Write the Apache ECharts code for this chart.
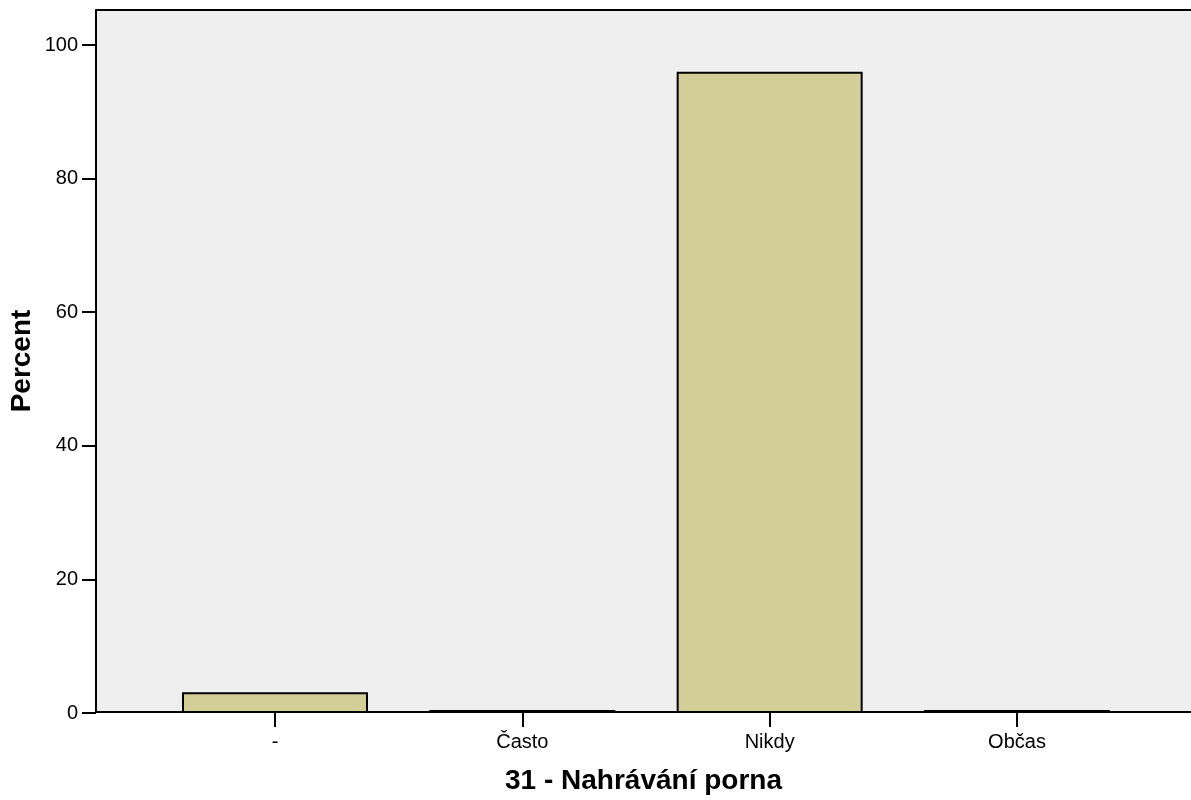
<!DOCTYPE html>
<html>
<head>
<meta charset="utf-8">
<script src="https://cdn.jsdelivr.net/npm/echarts@6/dist/echarts.min.js"></script>
<style>
html,body{margin:0;padding:0;background:#fff;}
#chart{width:1191px;height:800px;}
</style>
</head>
<body>
<div id="chart"></div>
<script>
const categories = ['-', 'Často', 'Nikdy', 'Občas'];
const percentValues = [3.1, 0.45, 96.0, 0.45];
const yTicks = [0, 20, 40, 60, 80, 100];
const xTitle = '31 - Nahrávání porna';
const yTitle = 'Percent';

const FONT = "'Liberation Sans', Arial, sans-serif";
const chart = echarts.init(document.getElementById('chart'), null, {renderer: 'canvas'});

const option = {
  backgroundColor: '#ffffff',
  animation: false,
  grid: [
    {left: 96, right: 0, top: 10, bottom: 87, show: true, backgroundColor: '#efefef', borderWidth: 0},
    {left: 151.33, right: 50.33, top: 45, bottom: 87}
  ],
  xAxis: [
    {
      gridIndex: 0, type: 'value', min: 0, max: 1, position: 'bottom',
      axisLine: {show: true, onZero: false, lineStyle: {color: '#000', width: 2}},
      axisTick: {show: false}, axisLabel: {show: false}, splitLine: {show: false},
      name: xTitle, nameLocation: 'middle', nameGap: 55,
      nameTextStyle: {fontFamily: FONT, fontSize: 28, fontWeight: 'bold', color: '#000'}
    },
    {
      gridIndex: 0, type: 'value', min: 0, max: 1, position: 'top',
      axisLine: {show: true, onZero: false, lineStyle: {color: '#000', width: 2}},
      axisTick: {show: false}, axisLabel: {show: false}, splitLine: {show: false}
    },
    {
      gridIndex: 1, type: 'category', data: categories, position: 'bottom',
      axisLine: {show: false, onZero: false},
      axisTick: {show: true, alignWithLabel: true, length: 14, lineStyle: {color: '#000', width: 2}},
      axisLabel: {show: true, interval: 0, margin: 19, fontFamily: FONT, fontSize: 20, color: '#000'},
      splitLine: {show: false}
    }
  ],
  yAxis: [
    {
      gridIndex: 0, type: 'value', min: 0, max: 1,
      axisLine: {show: true, onZero: false, lineStyle: {color: '#000', width: 2}},
      axisTick: {show: false}, axisLabel: {show: false}, splitLine: {show: false},
      name: yTitle, nameLocation: 'middle', nameGap: 60, nameRotate: 90,
      nameTextStyle: {fontFamily: FONT, fontSize: 28, fontWeight: 'bold', color: '#000'}
    },
    {
      gridIndex: 1, type: 'value', min: yTicks[0], max: yTicks[yTicks.length - 1], interval: 20,
      offset: 55.33,
      axisLine: {show: false},
      axisTick: {show: true, length: 14, lineStyle: {color: '#000', width: 2}},
      axisLabel: {show: true, margin: 18, fontFamily: FONT, fontSize: 20, color: '#000'},
      splitLine: {show: false}
    }
  ],
  series: [
    {
      type: 'bar',
      xAxisIndex: 2,
      yAxisIndex: 1,
      data: percentValues,
      barWidth: 186,
      itemStyle: {color: '#d3ce97', borderColor: '#000', borderWidth: 2}
    }
  ]
};
chart.setOption(option);
</script>
</body>
</html>
